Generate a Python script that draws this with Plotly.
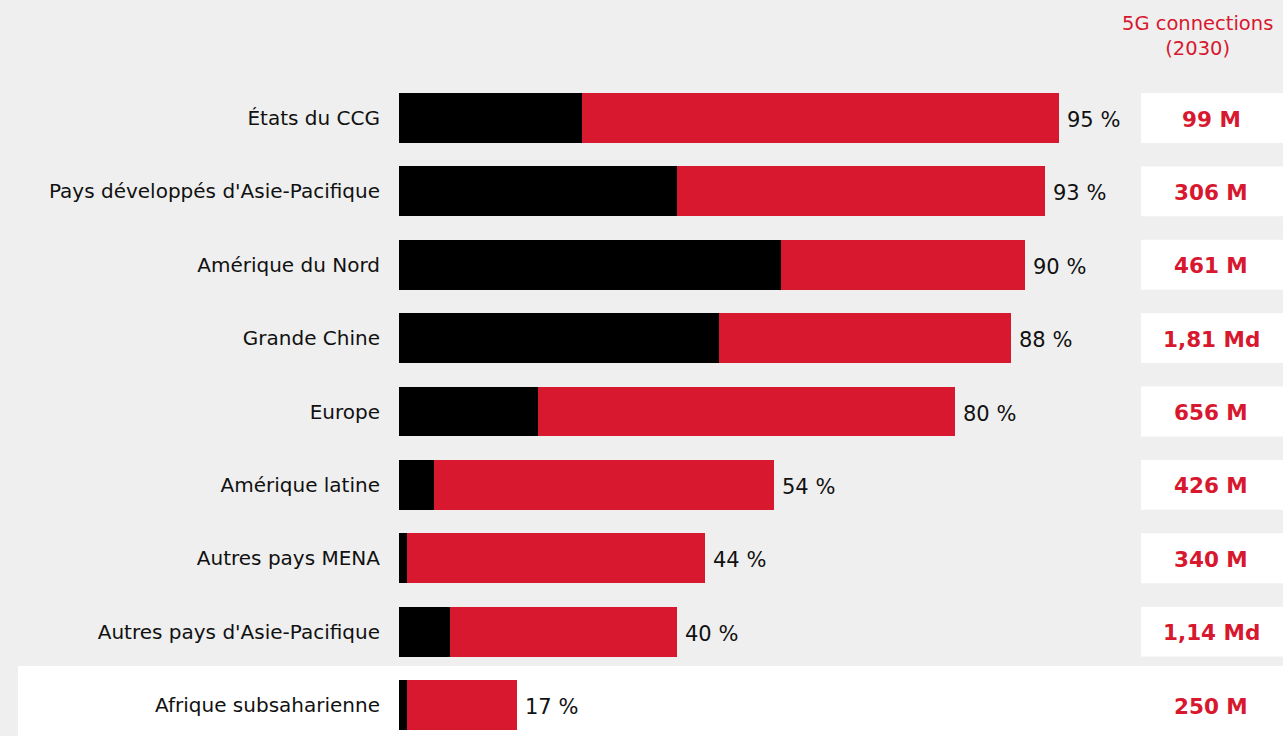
import plotly.graph_objects as go

regions = ["États du CCG", "Pays développés d'Asie-Pacifique", "Amérique du Nord",
           "Grande Chine", "Europe", "Amérique latine", "Autres pays MENA",
           "Autres pays d'Asie-Pacifique", "Afrique subsaharienne"]
adoption_2030 = [95, 93, 90, 88, 80, 54, 44, 40, 17]
adoption_now = [26.3, 40, 55, 46, 20, 5, 1.2, 7.3, 1.2]
connections_2030 = ["99 M", "306 M", "461 M", "1,81 Md", "656 M", "426 M", "340 M", "1,14 Md", "250 M"]

RED = "#d7182f"
BG = "#efefef"
FONT = "DejaVu Sans"

ypos = list(range(len(regions)))

fig = go.Figure()
fig.add_trace(go.Bar(x=adoption_2030, y=ypos, orientation="h", marker=dict(color=RED, line=dict(width=0)),
                     width=0.68, showlegend=False, hoverinfo="skip"))
fig.add_trace(go.Bar(x=adoption_now, y=ypos, orientation="h", marker=dict(color="#000000", line=dict(width=0)),
                     width=0.68, showlegend=False, hoverinfo="skip"))

L, R, T, B = 399, 189, 60, 0
W, H = 1283, 736
pw = W - L - R
ph = H - T - B

def px_to_paper_x(px):
    return (px - L) / pw

def px_to_paper_y(py):
    return 1 - (py - T) / ph

annotations = []
shapes = []
last = len(regions) - 1
# white band behind the last row
shapes.append(dict(type="rect", xref="paper", yref="y", x0=px_to_paper_x(18), x1=px_to_paper_x(1290),
                   y0=last - 0.532, y1=last + 0.6, fillcolor="white", line=dict(width=0), layer="below"))
for i, (p, c) in enumerate(zip(adoption_2030, connections_2030)):
    annotations.append(dict(x=p, y=i, xref="x", yref="y", text=f"{p} %", showarrow=False,
                            xanchor="left", yanchor="middle", xshift=6, yshift=-2,
                            font=dict(family=FONT, size=21, color="#111111")))
    shapes.append(dict(type="rect", xref="paper", yref="y", x0=px_to_paper_x(1141), x1=px_to_paper_x(1290),
                       y0=i - 0.34, y1=i + 0.34, fillcolor="white", line=dict(width=0), layer="below"))
    annotations.append(dict(x=px_to_paper_x(1211), y=i, xref="paper", yref="y", text=f"<b>{c}</b>",
                            showarrow=False, xanchor="center", yanchor="middle", yshift=-1,
                            font=dict(family=FONT, size=21.5, color=RED)))

annotations.append(dict(x=px_to_paper_x(1197), y=px_to_paper_y(36), xref="paper", yref="paper",
                        text="5G connections<br>(2030)", showarrow=False, xanchor="center", yanchor="middle",
                        align="center", font=dict(family=FONT, size=19.5, color=RED)))

k = 73.375
fig.update_layout(
    width=W, height=H, margin=dict(l=L, r=R, t=T, b=B, pad=0),
    paper_bgcolor=BG, plot_bgcolor="rgba(0,0,0,0)",
    barmode="overlay", bargap=0,
    xaxis=dict(range=[0, 100], visible=False, fixedrange=True),
    yaxis=dict(range=[(H - 118) / k, (T - 118) / k], tickvals=ypos, ticktext=regions,
               showgrid=False, zeroline=False, showline=False, ticks="", ticklabelstandoff=18,
               tickfont=dict(family=FONT, size=20, color="#111111"), fixedrange=True),
    shapes=shapes, annotations=annotations,
)

fig.write_html("out.html")
